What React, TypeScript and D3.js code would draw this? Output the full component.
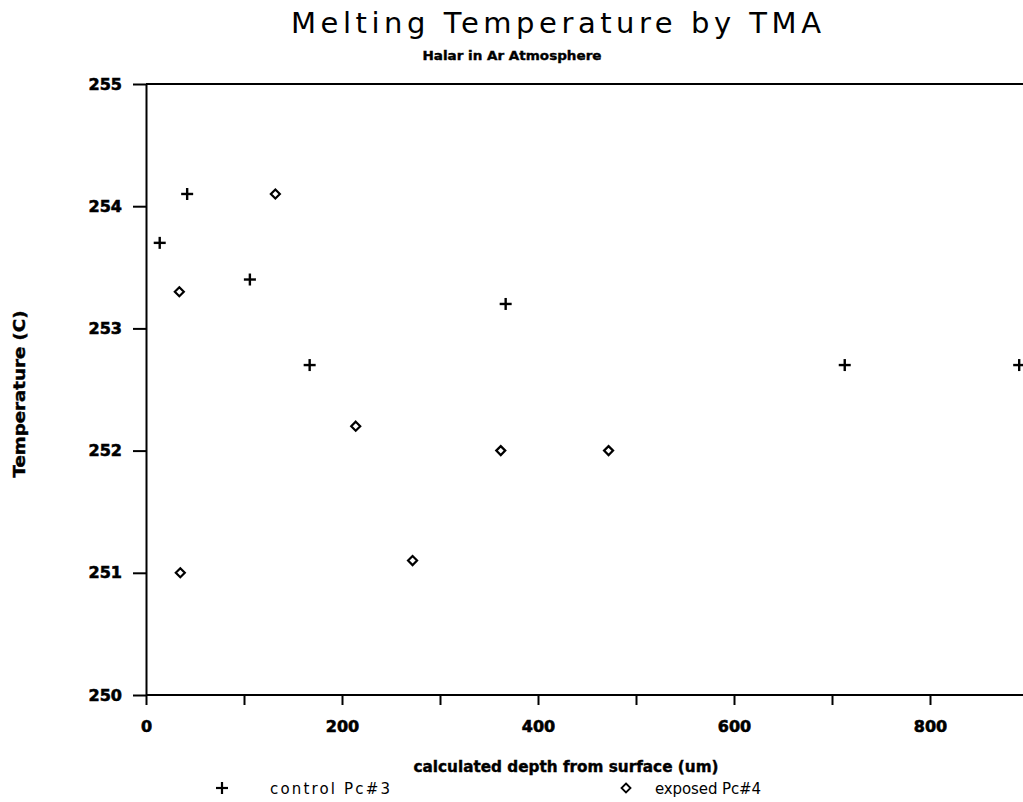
import React, { useRef, useEffect } from "react";
import * as d3 from "d3";

// control Pc#3 (plus markers)
const controlDepth = [14, 42, 106, 167, 367, 713, 891];
const controlTemp = [253.7, 254.1, 253.4, 252.7, 253.2, 252.7, 252.7];

// exposed Pc#4 (diamond markers)
const exposedDepth = [34, 132, 214, 362, 472, 272, 35];
const exposedTemp = [253.3, 254.1, 252.2, 252.0, 252.0, 251.1, 251.0];

const xTicks = [0, 100, 200, 300, 400, 500, 600, 700, 800, 900];
const xLabels = [0, 200, 400, 600, 800];
const yTicks = [250, 251, 252, 253, 254, 255];

const title = "Melting Temperature by TMA";
const subtitle = "Halar in Ar Atmosphere";
const xTitle = "calculated depth from surface (um)";
const yTitle = "Temperature (C)";
const seriesNames = ["control Pc#3", "exposed Pc#4"];

const W = 1023;
const H = 802;

const App = () => {
  const svgRef = useRef<SVGSVGElement | null>(null);

  useEffect(() => {
    const svg = d3.select(svgRef.current);
    svg.selectAll("*").remove();

    const x = d3.scaleLinear().domain([0, 1000]).range([146, 1126]);
    const y = d3.scaleLinear().domain([250, 255]).range([695, 84]);
    const font = "'DejaVu Sans', sans-serif";

    // top frame line
    svg
      .append("line")
      .attr("x1", x(0))
      .attr("x2", W)
      .attr("y1", y(255))
      .attr("y2", y(255))
      .attr("stroke", "#000")
      .attr("stroke-width", 2);

    const yAxis = d3
      .axisLeft(y)
      .tickValues(yTicks)
      .tickSize(13)
      .tickSizeOuter(0)
      .tickPadding(11)
      .tickFormat(d3.format("d"));
    const gy = svg.append("g").attr("transform", `translate(${x(0)},0)`).call(yAxis);

    const xAxis = d3
      .axisBottom(x)
      .tickValues(xTicks)
      .tickSize(10)
      .tickSizeOuter(0)
      .tickPadding(16)
      .tickFormat((d) => (xLabels.includes(d as number) ? String(d) : ""));
    const gx = svg.append("g").attr("transform", `translate(0,${y(250)})`).call(xAxis);
    gx.select(".domain").attr("d", `M${x(0)},0H${W}`);

    [gx, gy].forEach((g) => {
      g.selectAll("path, line").attr("stroke", "#000").attr("stroke-width", 2);
      g.selectAll("text")
        .attr("fill", "#000")
        .attr("stroke", "#000")
        .attr("stroke-width", 0.6)
        .style("font-family", font)
        .style("font-weight", "bold")
        .style("font-size", "16px");
    });

    // titles
    svg
      .append("text")
      .attr("x", 556)
      .attr("y", 33)
      .attr("text-anchor", "middle")
      .attr("textLength", 530)
      .attr("lengthAdjust", "spacing")
      .style("font-family", font)
      .style("font-size", "29px")
      .text(title);
    svg
      .append("text")
      .attr("x", 512)
      .attr("y", 60)
      .attr("text-anchor", "middle")
      .attr("textLength", 179)
      .attr("lengthAdjust", "spacingAndGlyphs")
      .attr("stroke", "#000")
      .attr("stroke-width", 0.4)
      .style("font-family", font)
      .style("font-weight", "bold")
      .style("font-size", "13px")
      .text(subtitle);
    svg
      .append("text")
      .attr("x", 566)
      .attr("y", 772)
      .attr("text-anchor", "middle")
      .attr("textLength", 305)
      .attr("lengthAdjust", "spacingAndGlyphs")
      .attr("stroke", "#000")
      .attr("stroke-width", 0.4)
      .style("font-family", font)
      .style("font-weight", "bold")
      .style("font-size", "15px")
      .text(xTitle);
    svg
      .append("text")
      .attr("transform", "translate(25,394) rotate(-90)")
      .attr("text-anchor", "middle")
      .attr("textLength", 167)
      .attr("lengthAdjust", "spacingAndGlyphs")
      .attr("stroke", "#000")
      .attr("stroke-width", 0.4)
      .style("font-family", font)
      .style("font-weight", "bold")
      .style("font-size", "16px")
      .text(yTitle);

    const plus = (g: any) => {
      g.append("line").attr("x1", -6).attr("x2", 6).attr("y1", 0).attr("y2", 0);
      g.append("line").attr("x1", 0).attr("x2", 0).attr("y1", -6).attr("y2", 6);
    };
    const diamond = (g: any) => {
      g.append("path").attr("d", "M0,-4.5L4.5,0L0,4.5L-4.5,0Z").attr("fill", "#fff");
    };

    const control = controlDepth.map((d, i) => ({ x: d, y: controlTemp[i] }));
    const exposed = exposedDepth.map((d, i) => ({ x: d, y: exposedTemp[i] }));

    svg
      .append("g")
      .selectAll("g")
      .data(control)
      .join("g")
      .attr("transform", (d) => `translate(${x(d.x)},${y(d.y)})`)
      .attr("stroke", "#000")
      .attr("stroke-width", 2.4)
      .each(function () {
        plus(d3.select(this));
      });

    svg
      .append("g")
      .selectAll("g")
      .data(exposed)
      .join("g")
      .attr("transform", (d) => `translate(${x(d.x)},${y(d.y)})`)
      .attr("stroke", "#000")
      .attr("stroke-width", 2.2)
      .each(function () {
        diamond(d3.select(this));
      });

    // legend
    const leg = [
      { mx: 222, tx: 270, w: 120, draw: plus, sw: 2.2 },
      { mx: 626, tx: 655, w: 106, draw: diamond, sw: 1.8 },
    ];
    leg.forEach((l, i) => {
      const g = svg
        .append("g")
        .attr("transform", `translate(${l.mx},788)`)
        .attr("stroke", "#000")
        .attr("stroke-width", l.sw);
      l.draw(g);
      svg
        .append("text")
        .attr("x", l.tx)
        .attr("y", 794)
        .attr("textLength", l.w)
        .attr("lengthAdjust", "spacing")
        .style("font-family", font)
        .style("font-size", "15px")
        .text(seriesNames[i]);
    });
  }, []);

  return (
    <svg
      ref={svgRef}
      width={W}
      height={H}
      style={{ position: "fixed", left: 0, top: 0, background: "#fff" }}
    />
  );
};

export default App;
